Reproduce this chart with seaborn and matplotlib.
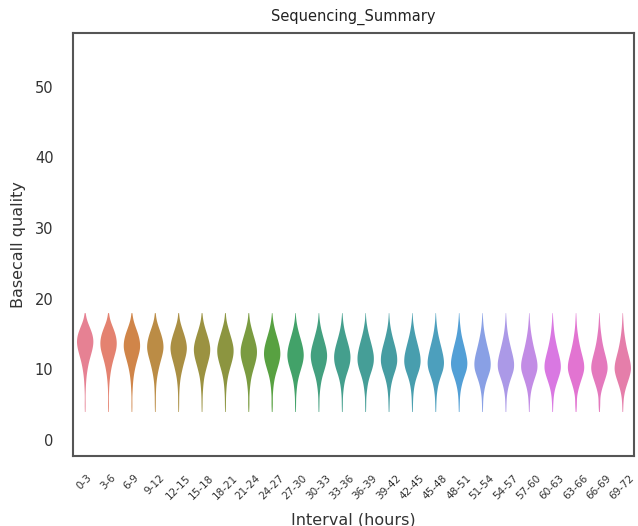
import numpy as np
import pandas as pd
import matplotlib
matplotlib.use("Agg")
import matplotlib.pyplot as plt
import seaborn as sns

intervals = ["0-3", "3-6", "6-9", "9-12", "12-15", "15-18", "18-21", "21-24",
             "24-27", "27-30", "30-33", "33-36", "36-39", "39-42", "42-45", "45-48",
             "48-51", "51-54", "54-57", "57-60", "60-63", "63-66", "66-69", "69-72"]

# quality bins (basecall quality values) and read counts per interval
quality_bins = [4, 5, 6, 7, 8, 9, 10, 11, 12, 13, 14, 15, 16, 17, 18]
counts = [
    [2, 3, 2, 3, 5, 8, 14, 22, 34, 46, 52, 45, 28, 10, 2],
    [2, 3, 2, 3, 5, 9, 15, 24, 36, 48, 50, 42, 26, 9, 2],
    [2, 3, 2, 4, 6, 10, 17, 27, 39, 50, 48, 38, 22, 8, 2],
    [2, 3, 3, 4, 6, 11, 19, 29, 41, 50, 46, 35, 20, 7, 2],
    [2, 3, 3, 4, 7, 12, 21, 31, 43, 50, 44, 32, 18, 6, 2],
    [2, 3, 3, 5, 8, 13, 23, 34, 45, 49, 41, 29, 16, 6, 2],
    [2, 3, 3, 5, 8, 14, 24, 36, 46, 48, 39, 27, 15, 5, 2],
    [2, 4, 3, 5, 9, 15, 26, 38, 47, 47, 37, 25, 14, 5, 2],
    [2, 4, 3, 5, 9, 16, 28, 40, 48, 45, 35, 23, 12, 5, 1],
    [2, 3, 3, 6, 10, 18, 30, 42, 48, 43, 33, 21, 11, 4, 1],
    [2, 3, 3, 6, 11, 19, 32, 43, 48, 42, 31, 20, 10, 4, 1],
    [2, 3, 3, 6, 11, 20, 34, 45, 47, 40, 29, 18, 9, 4, 1],
    [2, 3, 3, 7, 12, 22, 36, 46, 46, 38, 28, 17, 9, 3, 1],
    [2, 3, 4, 7, 13, 23, 37, 47, 45, 37, 26, 16, 8, 3, 1],
    [2, 3, 4, 7, 13, 24, 39, 47, 44, 35, 25, 15, 8, 3, 1],
    [2, 3, 4, 8, 15, 27, 42, 47, 41, 32, 22, 13, 7, 3, 1],
    [2, 3, 4, 8, 16, 28, 43, 47, 40, 31, 21, 12, 7, 3, 1],
    [2, 3, 4, 9, 17, 30, 44, 46, 39, 29, 20, 12, 6, 3, 1],
    [2, 3, 4, 9, 18, 31, 45, 46, 38, 28, 19, 11, 6, 3, 1],
    [2, 3, 5, 10, 20, 33, 46, 45, 36, 26, 18, 11, 6, 3, 1],
    [2, 3, 5, 10, 21, 34, 46, 44, 35, 25, 17, 10, 6, 3, 1],
    [2, 5, 4, 11, 22, 35, 47, 44, 34, 24, 16, 10, 5, 3, 1],
    [2, 5, 4, 11, 23, 36, 47, 43, 33, 23, 15, 10, 5, 3, 1],
    [2, 3, 5, 12, 24, 37, 47, 42, 32, 22, 15, 9, 5, 3, 1],
]

yticks = [0, 10, 20, 30, 40, 50]

rows = []
for iv, cnt in zip(intervals, counts):
    vals = np.repeat(quality_bins, cnt)
    rows.append(pd.DataFrame({"Interval": iv, "quality": vals}))
df = pd.concat(rows, ignore_index=True)

sns.set_theme(style="white")
plt.rcParams['font.family'] = ['DejaVu Sans']

fig = plt.figure(figsize=(6.38, 5.26), dpi=100)
ax = fig.add_axes([0.1144, 0.1331, 0.8793, 0.8042])

sns.violinplot(data=df, x="Interval", y="quality", hue="Interval",
               order=intervals, hue_order=intervals, palette="husl",
               legend=False, inner=None, linewidth=0, cut=0,
               bw_adjust=0.8, width=0.7, ax=ax)

ax.set_ylim(-2.3, 57.6)
ax.set_xlim(-0.5, len(intervals) - 0.5)
ax.set_yticks(yticks)
ax.tick_params(axis="y", labelsize=10.5, colors="#333333", pad=8)
ax.tick_params(axis="x", labelsize=7.5, rotation=45, colors="#333333", pad=6)
for lab in ax.get_xticklabels():
    lab.set_ha("center")
ax.set_xlabel("Interval (hours)", fontsize=11.5, color="#333333", labelpad=8)
ax.set_ylabel("Basecall quality", fontsize=11.5, color="#333333", labelpad=6)
ax.set_title("Sequencing_Summary", fontsize=10.5, color="#222222", pad=9)
for s in ax.spines.values():
    s.set_color("#555555")
    s.set_linewidth(1.5)

fig.savefig("out.png", dpi=100)
